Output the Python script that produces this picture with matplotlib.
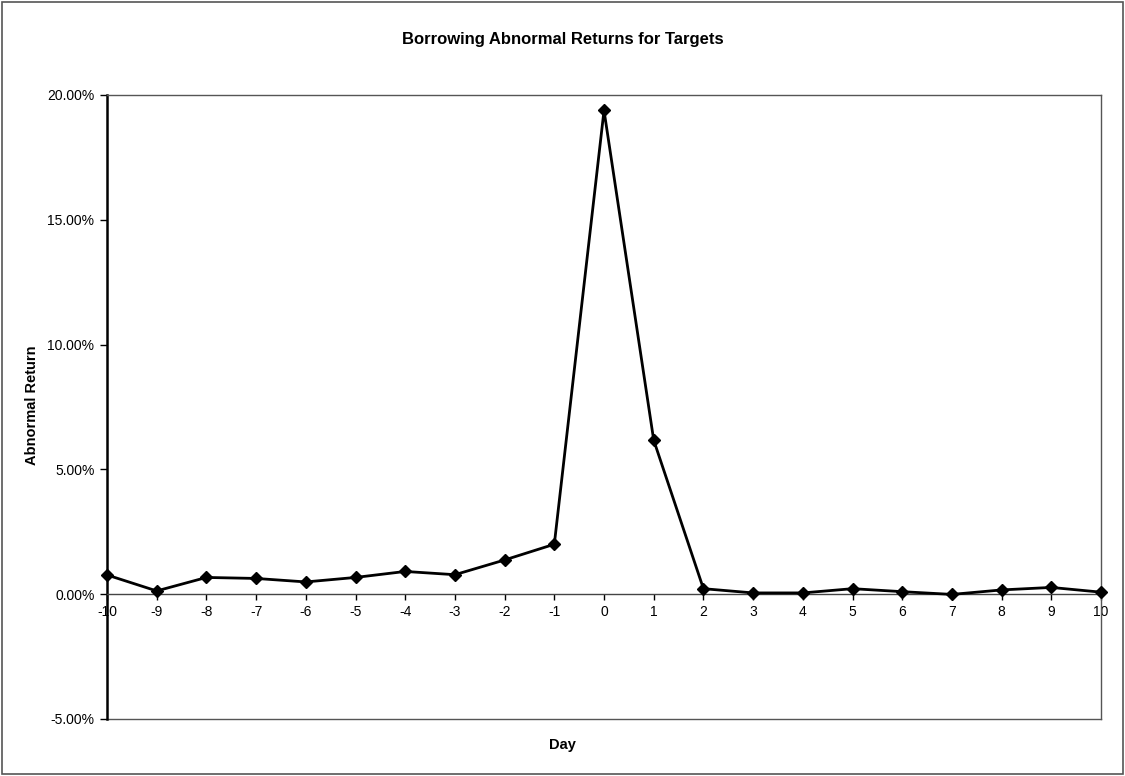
import numpy as np
import matplotlib.pyplot as plt
from matplotlib.patches import Rectangle
from matplotlib.ticker import FuncFormatter

days = list(range(-10, 11))
abnormal_return = [0.77, 0.13, 0.67, 0.63, 0.49, 0.67, 0.91, 0.78, 1.37, 2.00,
                   19.38, 6.17, 0.22, 0.05, 0.05, 0.22, 0.10, -0.01, 0.17, 0.27, 0.08]
y_ticks = [-5, 0, 5, 10, 15, 20]

plt.rcParams['font.family'] = ['Liberation Sans', 'DejaVu Sans']

fig = plt.figure(figsize=(11.25, 7.76), dpi=100)
fig.patches.append(Rectangle((0.002, 0.002), 0.996, 0.996, transform=fig.transFigure,
                             fill=False, edgecolor='#555555', linewidth=1.2))
ax = fig.add_axes([0.0951, 0.0735, 0.8836, 0.8041])

ax.plot(days, abnormal_return, color='black', linewidth=2, marker='D', markersize=6.5,
        zorder=3, clip_on=False)

ax.set_xlim(-10, 10)
ax.set_ylim(-5, 20)
ax.set_yticks(y_ticks)
ax.yaxis.set_major_formatter(FuncFormatter(lambda v, p: '%.2f%%' % v))
ax.set_xticks(days)
ax.set_xticklabels([str(d) for d in days], fontsize=8.5, fontweight='bold')
ax.tick_params(axis='y', labelsize=10, direction='out', length=5, width=1, pad=4)
ax.tick_params(axis='x', direction='out', length=4, width=1, pad=4)

ax.spines['bottom'].set_position(('data', 0))
ax.spines['bottom'].set_color('#444444')
ax.spines['bottom'].set_linewidth(1)
ax.spines['left'].set_linewidth(1.8)
ax.spines['left'].set_color('black')
for s in ['top', 'right']:
    ax.spines[s].set_color('#555555')
    ax.spines[s].set_linewidth(1)
ax.plot([0, 1], [0, 0], transform=ax.transAxes, color='#555555', linewidth=1, clip_on=False)

fig.text(0.5, 0.949, 'Borrowing Abnormal Returns for Targets', ha='center', va='center',
         fontsize=12, fontweight='bold')
fig.text(0.5, 0.040, 'Day', ha='center', va='center', fontsize=10.5, fontweight='bold')
fig.text(0.028, 0.478, 'Abnormal Return', ha='center', va='center', rotation=90,
         fontsize=10.5, fontweight='bold')

fig.savefig('out.png', dpi=100)
